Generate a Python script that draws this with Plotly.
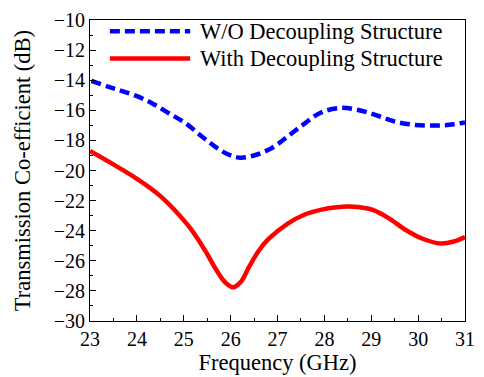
import plotly.graph_objects as go

freq_wo = [23.03, 23.37, 23.65, 24.0, 24.34, 24.69, 25.04, 25.38, 25.73, 26.0, 26.22, 26.53, 26.88, 27.22, 27.57, 27.92, 28.33, 28.68, 29.1, 29.51, 29.93, 30.41, 30.76, 31.0]
s21_wo = [-14.04, -14.41, -14.69, -15.06, -15.56, -16.21, -16.86, -17.72, -18.55, -19.0, -19.15, -18.97, -18.5, -17.73, -16.9, -16.16, -15.84, -15.95, -16.32, -16.75, -16.97, -17.01, -16.93, -16.8]

freq_with = [23.0, 23.49, 24.0, 24.52, 25.08, 25.29, 25.49, 25.70, 25.87, 26.05, 26.22, 26.39, 26.6, 26.81, 27.22, 27.57, 27.92, 28.26, 28.54, 28.89, 29.03, 29.37, 29.72, 30.07, 30.48, 30.76, 31.0]
s21_with = [-18.7, -19.58, -20.55, -21.75, -23.6, -24.5, -25.5, -26.63, -27.39, -27.76, -27.39, -26.42, -25.33, -24.55, -23.53, -22.94, -22.62, -22.44, -22.40, -22.51, -22.62, -23.16, -23.92, -24.5, -24.85, -24.72, -24.42]

names = ["W/O Decoupling Structure", "With Decoupling Structure"]
FONT = "Liberation Serif, Times New Roman, serif"

fig = go.Figure()
fig.add_trace(go.Scatter(x=freq_wo, y=s21_wo, mode="lines", name=names[0],
                         line=dict(color="#0000ff", width=4.5, dash="10px,5px", shape="spline", smoothing=1.0),
                         showlegend=False))
fig.add_trace(go.Scatter(x=freq_with, y=s21_with, mode="lines", name=names[1],
                         line=dict(color="#ff0000", width=4.5, shape="spline", smoothing=1.0),
                         showlegend=False))

# manual legend (paper coords)
leg_y = [0.963, 0.872]
styles = [dict(color="#0000ff", width=4.5, dash="10px,5px"), dict(color="#ff0000", width=4.5)]
for yy, nm, st in zip(leg_y, names, styles):
    fig.add_shape(type="line", xref="paper", yref="paper", x0=0.053, x1=0.267, y0=yy, y1=yy, line=st)
    fig.add_annotation(xref="paper", yref="paper", x=0.287, y=yy, text=nm, showarrow=False,
                       xanchor="left", yanchor="middle", font=dict(family=FONT, size=22.5, color="black"))

axis_common = dict(showline=True, linecolor="black", linewidth=1, mirror=True, ticks="inside",
                   ticklen=6, tickwidth=1, tickcolor="black", showgrid=False, zeroline=False,
                   tickfont=dict(family=FONT, size=20, color="black"))

fig.update_xaxes(range=[23, 31], dtick=1, tick0=23,
                 minor=dict(dtick=0.5, ticks="inside", ticklen=3, tickcolor="black"),
                 title=dict(text="Frequency (GHz)", font=dict(family=FONT, size=22.5, color="black"), standoff=2),
                 **axis_common)
fig.update_yaxes(range=[-30, -10], dtick=2, tick0=-30,
                 minor=dict(dtick=1, ticks="inside", ticklen=3, tickcolor="black"),
                 title=dict(text="Transmission Co-efficient (dB)", font=dict(family=FONT, size=22.5, color="black"), standoff=16),
                 **axis_common)

fig.update_layout(width=484, height=377, margin=dict(l=90, r=9, t=15, b=55),
                  plot_bgcolor="white", paper_bgcolor="white",
                  font=dict(family=FONT, color="black"))

fig.write_html("out.html")
